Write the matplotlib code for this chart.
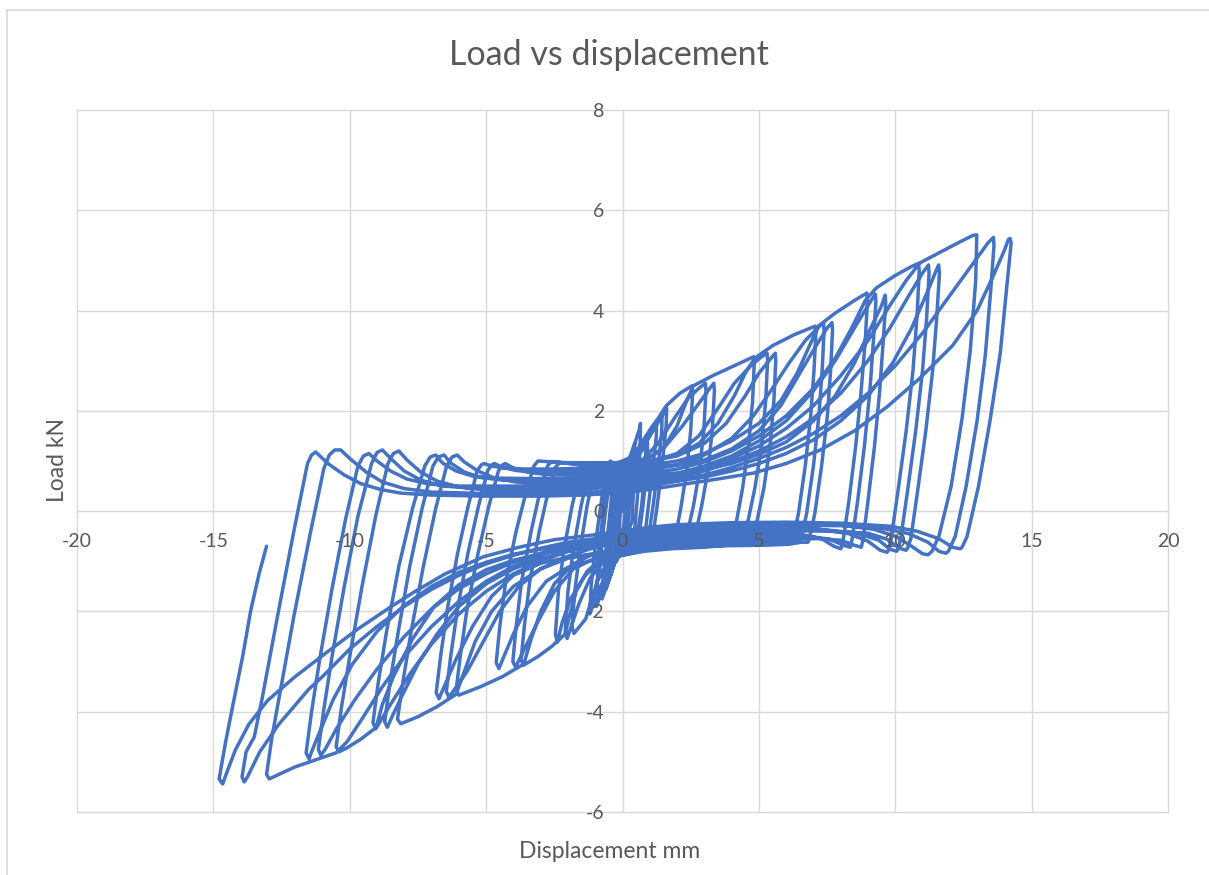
import matplotlib.pyplot as plt
from matplotlib.lines import Line2D

# cyclic load test, one continuous record; each group = cycles at one amplitude
# points are (displacement mm, load kN)
group_1 = [(0, 0), (0.08, 0.4), (0.12, 0.7), (0.1, 0.2), (0.05, -0.3), (-0.05, -0.55), (-0.12, -0.7),
           (-0.1, -0.2), (-0.05, 0.3), (0.05, 0.6), (0.15, 0.85), (0.13, 0.3), (0.08, -0.3), (-0.05, -0.6),
           (-0.16, -0.85), (-0.14, -0.3), (-0.08, 0.3), (0.05, 0.7), (0.2, 1.0), (0.18, 0.4), (0.1, -0.35),
           (-0.05, -0.7), (-0.22, -1.0), (-0.2, -0.4), (-0.12, 0.3), (0, 0.6),
           (0.15, 0.5), (0.3, 1.0), (0.28, 0.4), (0.2, -0.3), (0, -0.5), (-0.15, -0.75), (-0.3, -1.0),
           (-0.25, -0.3), (-0.15, 0.5), (0, 0.7),
           (0.2, 0.95), (0.35, 1.15), (0.45, 1.35), (0.42, 0.6), (0.35, -0.2), (0.15, -0.5), (0, -0.65),
           (-0.25, -0.95), (-0.45, -1.3), (-0.4, -0.5), (-0.25, 0.4), (-0.1, 0.8), (0, 0.8),
           (0.25, 1.05), (0.45, 1.35), (0.6, 1.6), (0.66, 1.75), (0.64, 1.2), (0.55, 0.3), (0.45, -0.35),
           (0.2, -0.5), (0, -0.7), (-0.3, -1.05), (-0.6, -1.55), (-0.55, -0.8), (-0.35, 0.2), (-0.2, 0.85),
           (-0.1, 0.9), (0, 0.85),
           (0.4, 1.0), (0.7, 1.2), (0.85, 1.3), (0.84, 0.9), (0.7, 0.1), (0.55, -0.45), (0.3, -0.6),
           (0, -0.75), (-0.4, -1.0), (-0.75, -1.25), (-0.85, -1.3), (-0.8, -0.8), (-0.65, 0), (-0.5, 0.6),
           (-0.3, 0.9), (0, 0.95),
           (0.4, 1.05), (0.75, 1.25), (0.92, 1.35), (0.9, 0.9), (0.75, 0.1), (0.6, -0.5), (0.3, -0.65),
           (0, -0.8), (-0.45, -1.05), (-0.8, -1.3), (-0.92, -1.38), (-0.88, -0.85), (-0.7, 0), (-0.55, 0.65),
           (-0.3, 0.95), (0, 1.0)]

group_2 = [(0.4, 1.1), (0.8, 1.45), (1.1, 1.7), (1.25, 1.8), (1.24, 1.5), (1.1, 0.8), (0.95, 0.1), (0.85, -0.35),
           (0.8, -0.45), (0.5, -0.55), (0.2, -0.65), (0, -0.78), (-0.3, -1.05), (-0.55, -1.45), (-0.75, -1.75),
           (-0.7, -1.3), (-0.55, -0.5), (-0.4, 0.3), (-0.25, 0.85), (-0.2, 0.95), (-0.1, 0.92), (0, 0.88),
           (0.5, 1.1), (0.9, 1.45), (1.25, 1.75), (1.45, 1.92), (1.44, 1.6), (1.3, 0.85), (1.12, 0.1),
           (1.0, -0.35), (0.95, -0.45), (0.6, -0.55), (0.25, -0.65), (0, -0.78), (-0.35, -1.05), (-0.7, -1.5),
           (-0.95, -1.9), (-0.92, -1.4), (-0.75, -0.55), (-0.55, 0.3), (-0.38, 0.85), (-0.3, 0.95),
           (-0.15, 0.9), (0, 0.86),
           (0.5, 1.05), (1.0, 1.5), (1.4, 1.85), (1.62, 2.05), (1.6, 1.7), (1.45, 0.9), (1.27, 0.1),
           (1.15, -0.35), (1.1, -0.45), (0.7, -0.55), (0.3, -0.65), (0, -0.78), (-0.4, -1.05), (-0.85, -1.55),
           (-1.2, -2.05), (-1.15, -1.5), (-0.98, -0.6), (-0.75, 0.3), (-0.55, 0.9), (-0.45, 1.0),
           (-0.25, 0.92), (0, 0.86)]

group_3 = [(0.5, 1.05), (0.9, 1.4), (1.25, 1.8), (1.6, 2.1), (2.1, 2.35), (2.55, 2.5), (2.57, 2.35), (2.5, 1.6),
           (2.35, 0.8), (2.15, 0.1), (2.0, -0.33), (1.95, -0.42), (1.7, -0.5), (1.2, -0.6), (0.6, -0.7),
           (0, -0.82), (-0.5, -1.0), (-0.9, -1.35), (-1.15, -1.8), (-1.35, -2.15), (-1.78, -2.44),
           (-1.85, -2.3), (-1.75, -1.6), (-1.55, -0.75), (-1.3, 0.1), (-1.05, 0.75), (-0.9, 0.95),
           (-0.6, 0.92), (-0.3, 0.9), (0, 0.9),
           (0.7, 1.0), (1.3, 1.35), (1.9, 1.85), (2.4, 2.25), (2.8, 2.45), (3.04, 2.55), (3.06, 2.4),
           (2.98, 1.6), (2.82, 0.8), (2.6, 0.1), (2.42, -0.33), (2.35, -0.42), (2.1, -0.5), (1.5, -0.62),
           (0.7, -0.72), (0, -0.84), (-0.7, -1.0), (-1.2, -1.35), (-1.6, -1.85), (-1.85, -2.25),
           (-2.03, -2.54), (-2.1, -2.4), (-2.0, -1.6), (-1.8, -0.75), (-1.52, 0.1), (-1.25, 0.75),
           (-1.1, 0.95), (-0.8, 0.93), (-0.4, 0.92), (0, 0.93),
           (0.8, 1.0), (1.5, 1.25), (2.2, 1.7), (2.8, 2.15), (3.2, 2.45), (3.35, 2.55), (3.37, 2.4),
           (3.29, 1.6), (3.13, 0.8), (2.9, 0.1), (2.72, -0.35), (2.65, -0.45), (2.4, -0.55), (1.8, -0.66),
           (0.9, -0.76), (0, -0.88), (-0.8, -1.0), (-1.4, -1.3), (-1.9, -1.75), (-2.2, -2.2), (-2.39, -2.61),
           (-2.46, -2.45), (-2.35, -1.6), (-2.14, -0.75), (-1.85, 0.1), (-1.57, 0.75), (-1.4, 0.95),
           (-1.1, 0.94), (-0.6, 0.93), (0, 0.95)]

group_4 = [(0.8, 1.02), (1.5, 1.25), (2.0, 1.7), (2.35, 2.2), (2.6, 2.5), (3.3, 2.7), (4.1, 2.9), (4.81, 3.08),
           (4.83, 2.95), (4.77, 2.2), (4.62, 1.3), (4.4, 0.45), (4.18, -0.2), (4.05, -0.45), (4.0, -0.5),
           (3.75, -0.55), (3.3, -0.6), (2.5, -0.64), (1.5, -0.67), (0.7, -0.72), (0, -0.8), (-0.7, -0.92),
           (-1.3, -1.2), (-1.7, -1.6), (-1.95, -2.1), (-2.1, -2.45), (-2.6, -2.7), (-3.1, -2.9),
           (-3.62, -3.07), (-3.72, -2.97), (-3.6, -2.3), (-3.4, -1.4), (-3.05, -0.4), (-2.7, 0.45),
           (-2.45, 0.88), (-2.3, 0.97), (-2.0, 0.95), (-1.5, 0.92), (-0.8, 0.91), (0, 0.92),
           (1, 0.98), (2, 1.15), (2.8, 1.5), (3.5, 2.05), (4.1, 2.55), (4.7, 2.9), (5.1, 3.08), (5.3, 3.15),
           (5.32, 3.0), (5.25, 2.2), (5.1, 1.3), (4.85, 0.45), (4.6, -0.2), (4.45, -0.44), (4.4, -0.48),
           (4.15, -0.56), (3.7, -0.63), (2.8, -0.68), (1.7, -0.71), (0.8, -0.76), (0, -0.84), (-1, -0.94),
           (-1.8, -1.15), (-2.5, -1.6), (-3.1, -2.2), (-3.55, -2.7), (-3.8, -2.98), (-3.92, -3.11),
           (-4.02, -3.0), (-3.9, -2.3), (-3.7, -1.4), (-3.35, -0.4), (-3.0, 0.45), (-2.75, 0.9),
           (-2.6, 0.99), (-2.3, 0.97), (-1.8, 0.95), (-1.0, 0.95), (0, 0.96),
           (1, 1.0), (2, 1.1), (3, 1.35), (3.8, 1.75), (4.5, 2.3), (5.0, 2.75), (5.4, 3.02), (5.6, 3.15),
           (5.62, 3.0), (5.55, 2.2), (5.41, 1.3), (5.18, 0.45), (4.93, -0.2), (4.8, -0.45), (4.75, -0.5),
           (4.5, -0.6), (4.0, -0.67), (3.0, -0.72), (1.8, -0.75), (0.8, -0.8), (0, -0.88), (-1, -0.96),
           (-2, -1.12), (-2.8, -1.4), (-3.5, -1.9), (-4.0, -2.45), (-4.35, -2.9), (-4.53, -3.14),
           (-4.63, -3.02), (-4.5, -2.3), (-4.28, -1.4), (-3.9, -0.4), (-3.5, 0.45), (-3.25, 0.9),
           (-3.1, 1.0), (-2.8, 0.99), (-2.2, 0.97), (-1.3, 0.96), (0, 0.96)]

group_5 = [(1, 1.0), (2, 1.12), (2.8, 1.35), (3.5, 1.75), (4.1, 2.3), (4.5, 2.75), (4.85, 3.05), (5.5, 3.3),
           (6.3, 3.52), (7.07, 3.69), (7.09, 3.55), (7.02, 2.8), (6.9, 1.9), (6.7, 0.9), (6.45, -0.05),
           (6.28, -0.48), (6.22, -0.6), (6.2, -0.62), (5.95, -0.6), (5.5, -0.58), (4.7, -0.58),
           (3.5, -0.59), (2, -0.62), (1, -0.66), (0, -0.74), (-1, -0.84), (-1.8, -1.05), (-2.5, -1.45),
           (-3.0, -2.0), (-3.35, -2.55), (-3.62, -3.05), (-4.4, -3.3), (-5.2, -3.5), (-6.0, -3.67),
           (-6.1, -3.57), (-5.95, -2.9), (-5.7, -1.95), (-5.3, -0.85), (-4.9, 0.1), (-4.55, 0.8),
           (-4.4, 0.92), (-4.3, 0.95), (-4.0, 0.86), (-3.5, 0.78), (-2.8, 0.73), (-2, 0.72), (-1, 0.74),
           (0, 0.77),
           (1, 0.82), (2, 0.92), (3, 1.12), (4, 1.45), (4.8, 1.9), (5.5, 2.45), (6.1, 2.95), (6.7, 3.4),
           (7.2, 3.68), (7.37, 3.75), (7.39, 3.6), (7.32, 2.8), (7.2, 1.9), (7.0, 0.9), (6.75, -0.05),
           (6.58, -0.47), (6.52, -0.58), (6.5, -0.6), (6.25, -0.6), (5.8, -0.62), (5.0, -0.63),
           (3.7, -0.64), (2, -0.67), (1, -0.71), (0, -0.78), (-1, -0.84), (-2, -0.94), (-3, -1.15),
           (-3.8, -1.5), (-4.5, -2.0), (-5.1, -2.6), (-5.7, -3.2), (-6.15, -3.55), (-6.36, -3.71),
           (-6.46, -3.6), (-6.3, -2.9), (-6.05, -1.95), (-5.67, -0.85), (-5.28, 0.1), (-4.95, 0.8),
           (-4.8, 0.92), (-4.7, 0.95), (-4.4, 0.87), (-3.9, 0.81), (-3.2, 0.78), (-2.2, 0.78), (-1, 0.8),
           (0, 0.83),
           (1, 0.87), (2, 0.92), (3, 1.02), (4, 1.24), (5, 1.6), (5.8, 2.1), (6.5, 2.75), (7.1, 3.3),
           (7.5, 3.65), (7.68, 3.76), (7.7, 3.6), (7.63, 2.8), (7.51, 1.9), (7.3, 0.9), (7.05, -0.05),
           (6.88, -0.48), (6.82, -0.6), (6.8, -0.62), (6.55, -0.62), (6.1, -0.66), (5.2, -0.68),
           (3.8, -0.69), (2, -0.72), (1, -0.76), (0, -0.82), (-1, -0.86), (-2, -0.92), (-3, -1.04),
           (-4, -1.28), (-4.8, -1.7), (-5.5, -2.3), (-6.1, -2.95), (-6.5, -3.45), (-6.73, -3.74),
           (-6.83, -3.62), (-6.67, -2.9), (-6.42, -1.95), (-6.05, -0.85), (-5.66, 0.1), (-5.33, 0.8),
           (-5.18, 0.92), (-5.08, 0.95), (-4.8, 0.9), (-4.3, 0.86), (-3.6, 0.84), (-2.5, 0.84),
           (-1.2, 0.86), (0, 0.88)]

group_6 = [(1, 0.92), (2, 1.0), (3, 1.15), (4, 1.4), (5, 1.75), (5.8, 2.2), (6.4, 2.75), (6.9, 3.35),
           (7.2, 3.7), (7.8, 3.95), (8.5, 4.2), (8.96, 4.35), (8.98, 4.2), (8.9, 3.4), (8.75, 2.4),
           (8.55, 1.3), (8.3, 0.2), (8.1, -0.55), (8.03, -0.72), (8.0, -0.75), (7.75, -0.7), (7.3, -0.55),
           (6.5, -0.46), (5.3, -0.44), (4, -0.44), (2, -0.47), (1, -0.52), (0, -0.6), (-1, -0.72),
           (-2, -0.9), (-3, -1.15), (-4, -1.5), (-4.8, -2.0), (-5.4, -2.6), (-5.8, -3.2), (-6.1, -3.65),
           (-6.8, -3.9), (-7.5, -4.1), (-8.13, -4.24), (-8.25, -4.15), (-8.05, -3.4), (-7.75, -2.4),
           (-7.3, -1.1), (-6.85, 0.05), (-6.45, 0.9), (-6.25, 1.08), (-6.06, 1.12), (-5.8, 0.98),
           (-5.3, 0.8), (-4.7, 0.66), (-3.9, 0.58), (-3, 0.55), (-2, 0.55), (-1, 0.57), (0, 0.6),
           (1, 0.66), (2, 0.75), (3, 0.9), (4, 1.1), (5, 1.4), (6, 1.8), (7, 2.4), (7.8, 3.0), (8.5, 3.65),
           (9.0, 4.1), (9.27, 4.33), (9.29, 4.18), (9.2, 3.4), (9.07, 2.4), (8.87, 1.3), (8.62, 0.2),
           (8.43, -0.52), (8.37, -0.69), (8.35, -0.72), (8.1, -0.68), (7.6, -0.56), (6.8, -0.5),
           (5.5, -0.49), (4, -0.49), (2, -0.52), (1, -0.56), (0, -0.63), (-1, -0.7), (-2, -0.8),
           (-3, -0.95), (-4, -1.15), (-5, -1.45), (-6, -1.9), (-6.8, -2.45), (-7.5, -3.05), (-8.1, -3.7),
           (-8.45, -4.1), (-8.62, -4.31), (-8.72, -4.2), (-8.52, -3.4), (-8.22, -2.4), (-7.8, -1.1),
           (-7.35, 0.05), (-6.95, 0.9), (-6.75, 1.08), (-6.54, 1.12), (-6.3, 0.96), (-5.8, 0.78),
           (-5.2, 0.67), (-4.4, 0.62), (-3.3, 0.6), (-2, 0.6), (-1, 0.62), (0, 0.65),
           (1, 0.7), (2, 0.76), (3, 0.83), (4, 0.95), (5, 1.13), (6, 1.38), (7, 1.8), (7.8, 2.3),
           (8.5, 2.95), (9.1, 3.65), (9.5, 4.1), (9.63, 4.31), (9.65, 4.15), (9.56, 3.4), (9.43, 2.4),
           (9.24, 1.3), (9.0, 0.2), (8.83, -0.52), (8.77, -0.69), (8.75, -0.72), (8.5, -0.68), (8.0, -0.58),
           (7.2, -0.55), (5.8, -0.54), (4, -0.54), (2, -0.57), (1, -0.6), (0, -0.66), (-1, -0.7),
           (-2, -0.76), (-3, -0.85), (-4, -0.98), (-5, -1.17), (-6, -1.47), (-6.9, -1.9), (-7.7, -2.55),
           (-8.4, -3.3), (-8.8, -3.85), (-9.05, -4.34), (-9.15, -4.22), (-8.95, -3.4), (-8.65, -2.4),
           (-8.2, -1.1), (-7.7, 0.05), (-7.25, 0.9), (-7.05, 1.08), (-6.85, 1.12), (-6.6, 0.96),
           (-6.1, 0.8), (-5.5, 0.7), (-4.7, 0.66), (-3.5, 0.65), (-2, 0.65), (-1, 0.67), (0, 0.7)]

group_7 = [(1, 0.75), (2, 0.84), (3, 0.98), (4, 1.2), (5, 1.5), (6, 1.9), (7, 2.45), (7.8, 3.05), (8.4, 3.65),
           (8.9, 4.2), (9.3, 4.45), (10.0, 4.7), (10.6, 4.88), (10.85, 4.94), (10.88, 4.8), (10.8, 3.9),
           (10.65, 2.8), (10.4, 1.6), (10.1, 0.4), (9.85, -0.55), (9.75, -0.78), (9.7, -0.82),
           (9.45, -0.78), (9.0, -0.6), (8.3, -0.45), (7.2, -0.36), (6, -0.33), (4, -0.33), (2, -0.37),
           (1, -0.43), (0, -0.53), (-1, -0.65), (-2, -0.8), (-3, -1.0), (-4, -1.25), (-5, -1.6),
           (-6, -2.05), (-7, -2.65), (-7.8, -3.25), (-8.5, -3.85), (-9.0, -4.3), (-9.6, -4.55),
           (-10.1, -4.72), (-10.39, -4.8), (-10.5, -4.7), (-10.3, -3.9), (-10.0, -2.9), (-9.55, -1.5),
           (-9.05, -0.1), (-8.6, 0.95), (-8.4, 1.15), (-8.2, 1.2), (-7.9, 1.02), (-7.4, 0.78),
           (-6.8, 0.6), (-6.0, 0.48), (-5, 0.42), (-3.5, 0.4), (-2, 0.42), (-1, 0.46), (0, 0.5),
           (1, 0.56), (2, 0.66), (3, 0.8), (4, 0.98), (5, 1.2), (6, 1.48), (7, 1.85), (8, 2.35), (9, 3.0),
           (9.8, 3.65), (10.5, 4.3), (11.0, 4.75), (11.22, 4.91), (11.24, 4.75), (11.15, 3.85),
           (11.0, 2.8), (10.75, 1.6), (10.45, 0.4), (10.2, -0.55), (10.1, -0.76), (10.05, -0.8),
           (9.8, -0.76), (9.4, -0.58), (8.6, -0.44), (7.4, -0.37), (6, -0.35), (4, -0.36), (2, -0.4),
           (1, -0.46), (0, -0.55), (-1, -0.62), (-2, -0.7), (-3, -0.84), (-4, -1.02), (-5, -1.25),
           (-6, -1.55), (-7, -1.95), (-8, -2.5), (-9, -3.15), (-9.8, -3.75), (-10.5, -4.35),
           (-10.9, -4.75), (-11.06, -4.87), (-11.15, -4.75), (-10.95, -3.95), (-10.65, -2.9),
           (-10.2, -1.5), (-9.7, -0.1), (-9.2, 0.95), (-9.0, 1.17), (-8.8, 1.22), (-8.5, 1.05),
           (-8.0, 0.8), (-7.4, 0.62), (-6.6, 0.5), (-5.5, 0.46), (-4, 0.45), (-2.5, 0.45), (-1, 0.47),
           (0, 0.5),
           (1, 0.54), (2, 0.6), (3, 0.68), (4, 0.8), (5, 0.95), (6, 1.15), (7, 1.42), (8, 1.8), (9, 2.3),
           (9.9, 2.95), (10.6, 3.65), (11.2, 4.4), (11.5, 4.8), (11.59, 4.91), (11.62, 4.75),
           (11.52, 3.85), (11.37, 2.8), (11.12, 1.6), (10.82, 0.4), (10.57, -0.55), (10.45, -0.74),
           (10.4, -0.78), (10.15, -0.74), (9.7, -0.56), (9.0, -0.44), (7.6, -0.4), (6, -0.39),
           (4, -0.39), (2, -0.43), (1, -0.48), (0, -0.56), (-1, -0.62), (-2, -0.68), (-3, -0.76),
           (-4, -0.86), (-5, -1.02), (-6, -1.22), (-7, -1.5), (-8, -1.88), (-9, -2.4), (-9.9, -3.05),
           (-10.6, -3.75), (-11.1, -4.4), (-11.4, -4.8), (-11.49, -4.94), (-11.6, -4.82), (-11.4, -4.0),
           (-11.1, -2.95), (-10.65, -1.55), (-10.15, -0.15), (-9.7, 0.9), (-9.5, 1.1), (-9.3, 1.15),
           (-9.0, 1.0), (-8.5, 0.8), (-7.9, 0.64), (-7.1, 0.54), (-6, 0.5), (-4.5, 0.5), (-3, 0.5),
           (-1.5, 0.52), (0, 0.56)]

group_8 = [(1.0, 0.62), (2.0, 0.72), (3.0, 0.86), (4.0, 1.05), (5.0, 1.3), (6.0, 1.65), (7.0, 2.1),
           (8.0, 2.7), (9.0, 3.4), (9.8, 4.1), (10.4, 4.6), (10.9, 4.95), (11.6, 5.15), (12.3, 5.35),
           (12.85, 5.5), (12.99, 5.51), (12.95, 4.6), (12.75, 3.2), (12.45, 1.85), (12.05, 0.5),
           (11.6, -0.5), (11.35, -0.8), (11.2, -0.87), (11.0, -0.85), (10.6, -0.7), (10.0, -0.5),
           (9.2, -0.36), (8.0, -0.28), (6.0, -0.25), (4.0, -0.26), (2.0, -0.3), (1.0, -0.36), (0, -0.45),
           (-1, -0.56), (-2, -0.7), (-3, -0.88), (-4, -1.1), (-5, -1.4), (-6, -1.8), (-7, -2.3),
           (-8, -2.9), (-8.8, -3.5), (-9.5, -4.1), (-10.1, -4.6), (-10.5, -4.82), (-11.2, -4.95),
           (-12.0, -5.1), (-12.6, -5.25), (-12.95, -5.34), (-13.05, -5.25), (-12.85, -4.5),
           (-12.55, -3.6), (-12.05, -2.1), (-11.45, -0.45), (-10.95, 0.85), (-10.75, 1.12),
           (-10.55, 1.22), (-10.33, 1.22), (-10.0, 1.05), (-9.4, 0.78), (-8.8, 0.58), (-8.0, 0.45),
           (-7.0, 0.38), (-5.0, 0.35), (-3.0, 0.35), (-1.5, 0.37), (-0.5, 0.4), (0, 0.43),
           (1, 0.5), (2, 0.6), (3, 0.72), (4, 0.87), (5, 1.05), (6, 1.27), (7, 1.55), (8, 1.9), (9, 2.35),
           (10, 2.9), (11, 3.55), (12, 4.3), (12.8, 4.9), (13.4, 5.35), (13.6, 5.46), (13.62, 5.3),
           (13.5, 4.4), (13.3, 3.1), (13.0, 1.8), (12.6, 0.5), (12.2, -0.5), (11.95, -0.8), (11.85, -0.84),
           (11.6, -0.8), (11.2, -0.62), (10.5, -0.45), (9.5, -0.34), (8, -0.29), (6, -0.28), (4, -0.29),
           (2, -0.33), (1, -0.38), (0, -0.46), (-1, -0.55), (-2, -0.62), (-3, -0.74), (-4, -0.88),
           (-5, -1.05), (-6, -1.28), (-7, -1.56), (-8, -1.9), (-9, -2.3), (-10, -2.75), (-11, -3.3),
           (-11.5, -3.55), (-12.6, -4.25), (-13.3, -4.8), (-13.75, -5.3), (-13.87, -5.4), (-13.95, -5.3),
           (-13.8, -4.8), (-13.5, -4.5), (-13.2, -3.7), (-12.65, -2.1), (-12.05, -0.4), (-11.55, 0.95),
           (-11.4, 1.12), (-11.25, 1.18), (-10.8, 0.95), (-10.2, 0.72), (-9.6, 0.55), (-8.86, 0.43),
           (-8.13, 0.36), (-7, 0.32), (-5, 0.3), (-3, 0.3), (-1.5, 0.32), (-0.5, 0.35), (0, 0.36),
           (1.2, 0.45), (2.4, 0.55), (3.6, 0.65), (4.8, 0.76), (6, 0.95), (7.25, 1.22), (8.5, 1.6),
           (9.7, 2.08), (10.9, 2.65), (12.1, 3.3), (13.0, 4.0), (13.6, 4.7), (14.0, 5.2), (14.15, 5.42),
           (14.21, 5.44), (14.25, 5.35), (14.09, 4.48), (13.85, 3.15), (13.48, 1.82), (13.05, 0.49),
           (12.63, -0.51), (12.45, -0.72), (12.38, -0.75), (12.1, -0.72), (11.6, -0.55), (10.8, -0.4),
           (9.8, -0.3), (8, -0.24), (6, -0.22), (4, -0.23), (2, -0.27), (1, -0.32), (0, -0.4),
           (-1, -0.47), (-2.5, -0.57), (-3.8, -0.72), (-5.1, -0.91), (-6.5, -1.25), (-7.6, -1.6),
           (-8.5, -1.91), (-9.7, -2.35), (-10.9, -2.84), (-12.0, -3.3), (-13.0, -3.77), (-13.7, -4.25),
           (-14.2, -4.77), (-14.5, -5.2), (-14.66, -5.44), (-14.79, -5.34), (-14.54, -4.57),
           (-14.3, -3.91), (-13.93, -2.91), (-13.63, -1.98), (-13.32, -1.24), (-13.05, -0.70)]

record = group_1 + group_2 + group_3 + group_4 + group_5 + group_6 + group_7 + group_8
disp = [p[0] for p in record]
load = [p[1] for p in record]

x_ticks = list(range(-20, 21, 5))
y_ticks = list(range(-6, 9, 2))

grey = '#d9d9d9'
text_col = '#595959'
plt.rcParams['font.family'] = ['Lato', 'DejaVu Sans']
plt.rcParams['axes.unicode_minus'] = False

fig = plt.figure(figsize=(12.09, 8.75), dpi=100)
ax = fig.add_axes([77 / 1209, 1 - 812 / 875, (1168 - 77) / 1209, (812 - 110) / 875])

# gridlines under the curve, tick labels over it
for xv in x_ticks:
    ax.axvline(xv, color=grey, lw=1.0, zorder=0.5, clip_on=False)
for yv in y_ticks:
    ax.axhline(yv, color=grey, lw=1.0, zorder=0.5, clip_on=False)

ax.plot(disp, load, color='#4472c4', lw=2.5, solid_joinstyle='round', solid_capstyle='round', zorder=2)

ax.set_xlim(-20, 20)
ax.set_ylim(-6, 8)
ax.set_xticks(x_ticks)
ax.set_yticks(y_ticks)

# axes cross at the origin
for side in ['top', 'right']:
    ax.spines[side].set_visible(False)
ax.spines['left'].set_position(('data', 0))
ax.spines['bottom'].set_position(('data', 0))
for side in ['left', 'bottom']:
    ax.spines[side].set_color(grey)
    ax.spines[side].set_zorder(0.6)
ax.tick_params(axis='both', length=0, labelsize=14, colors=text_col)
ax.tick_params(axis='y', pad=13)
ax.tick_params(axis='x', pad=16)
ax.xaxis.set_zorder(4)
ax.yaxis.set_zorder(4)

fig.text(609 / 1209, 1 - 55 / 875, 'Load vs displacement', ha='center', va='center',
         fontsize=24.5, color=text_col)
fig.text(610 / 1209, 1 - 851 / 875, 'Displacement mm', ha='center', va='center',
         fontsize=16.5, color=text_col)
fig.text(57 / 1209, 1 - 460 / 875, 'Load kN', ha='center', va='center', rotation=90,
         fontsize=16.5, color=text_col)

# chart frame
fig.add_artist(Line2D([7 / 1209, 1], [1 - 10 / 875, 1 - 10 / 875], color=grey, lw=1.2))
fig.add_artist(Line2D([7 / 1209, 7 / 1209], [0, 1 - 10 / 875], color=grey, lw=1.2))

fig.savefig('out.png', dpi=100)
